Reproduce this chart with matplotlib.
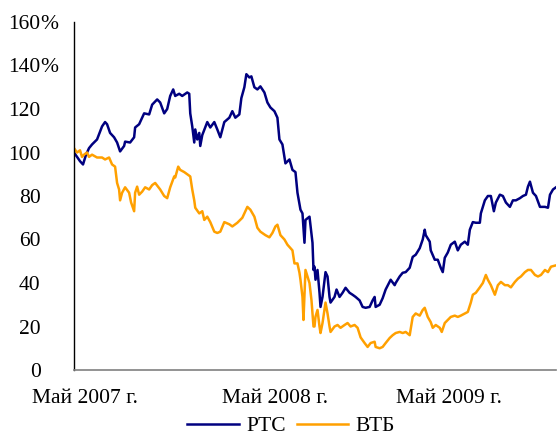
import matplotlib
matplotlib.use("Agg")
import matplotlib.pyplot as plt
import numpy as np

# day index (approximate trading-day position) and index values, % of start
rts_days = [0, 3, 6, 9, 12, 15, 18, 23, 28, 31, 33, 36, 40, 43, 46, 50, 51, 56, 60, 61, 65, 70, 75, 78,
            83, 86, 90, 93, 96, 99, 101, 105, 108, 113, 115, 116, 118, 120, 121, 123, 125, 126, 128,
            133, 136, 140, 143, 146, 150, 155, 158, 161, 165, 167, 170, 172, 175, 177, 180, 183, 186,
            190, 193, 196, 200, 203, 205, 208, 211, 215, 218, 221, 223, 226, 228, 230, 231, 235, 238,
            239, 240, 241, 243, 245, 246, 248, 251, 253, 255, 256, 260, 262, 265, 268, 271, 275, 278,
            281, 285, 288, 291, 295, 298, 300, 301, 305, 308, 311, 316, 320, 321, 325, 328, 331, 335,
            338, 341, 345, 348, 350, 351, 355, 356, 360, 363, 366, 368, 370, 373, 376, 380, 383, 386,
            390, 393, 395, 398, 401, 405, 406, 410, 413, 416, 419, 421, 425, 428, 431, 435, 438, 441,
            445, 448, 451, 453, 455, 458, 461, 465, 470, 473, 475, 478, 481]
rts_vals = [100, 98, 96, 94.5, 99, 102, 103.7, 106, 112, 114, 113, 109, 107, 104.6, 100.5, 103, 105, 104.6,
            107, 111.5, 113, 118, 117.5, 122,
            124.4, 123, 118, 120, 126, 129, 126, 127, 126, 127.6, 127, 118, 112, 104.6, 110.6, 106, 109,
            103, 108, 114, 111.5, 114, 110.6, 107, 114, 116, 119, 116, 117.5, 125, 130, 136, 134.5, 135,
            130, 129, 130.4, 127.6, 123, 120.7, 119, 116, 106, 103.7, 95, 96.8, 92, 91, 81.5, 73.7, 72,
            58.5, 69, 70.5, 58.5, 46, 47.5, 41.5, 46, 35.5, 29, 33.6, 45, 43, 33.6, 31, 33.6, 37, 33.6,
            35.5, 37.8, 35.5, 34.6, 33.6, 32, 29, 28.6, 29, 32, 33.6, 29, 30, 33, 37, 41.5, 39, 40, 43,
            44.7, 45, 47, 52, 53, 56, 60, 64.5, 62, 59, 55, 50.7, 50.7, 47, 45, 51.6, 54, 57.6, 59, 55,
            57.6, 59, 57.6, 64.5, 68, 67.7, 67.7, 72, 78, 80, 80, 73, 77, 80.6, 80, 77, 75, 78, 78, 79,
            80, 80.6, 84.3, 86.6, 81.5, 80, 75, 75, 74.6, 80.6, 83, 84]

vtb_days = [0, 3, 6, 8, 10, 13, 15, 18, 23, 28, 31, 35, 38, 41, 43, 45, 46, 48, 51, 55, 57, 60, 61, 63,
            65, 68, 71, 75, 78, 81, 86, 90, 93, 96, 100, 101, 104, 106, 110, 113, 116, 118, 120, 121,
            125, 128, 130, 133, 136, 140, 143, 146, 150, 155, 158, 163, 168, 173, 176, 180, 183, 186,
            191, 195, 198, 201, 203, 206, 210, 213, 218, 220, 223, 225, 226, 228, 229, 231, 233, 235,
            237, 239, 240, 241, 243, 245, 246, 248, 251, 253, 255, 256, 260, 263, 266, 270, 273, 276,
            280, 283, 286, 290, 293, 296, 300, 301, 305, 308, 311, 315, 318, 321, 325, 328, 331, 335,
            338, 341, 345, 348, 350, 353, 356, 358, 361, 365, 367, 370, 373, 376, 380, 383, 386, 390,
            393, 396, 398, 401, 405, 408, 411, 413, 416, 420, 423, 426, 430, 433, 436, 440, 443, 446,
            450, 453, 456, 460, 463, 466, 470, 473, 476, 480]
vtb_vals = [102, 100, 101, 98, 99, 100, 98, 99, 97.7, 97.7, 96.8, 97.7, 94.5, 93.5, 86, 83, 78, 81.5, 84,
            81.5, 77, 73, 81.5, 84.3, 80.6, 82, 84, 83, 85, 86, 83, 80, 79, 84, 89, 88.5, 93.5, 92, 91,
            90, 89, 83, 78, 74.6, 72, 73, 69, 70.5, 68, 63.6, 63, 63.6, 68, 67, 66, 67.7, 70, 75, 73.7,
            70.5, 65.4, 63.6, 62, 61, 63, 66, 66.8, 62, 60, 57.6, 55, 49, 49, 44.7, 41.5, 33.6, 23, 46,
            43, 40, 32, 20, 20, 24.5, 27.6, 20, 17, 21.6, 31, 26, 20, 17.5, 20, 20.7, 19.4, 20.7, 21.6,
            20, 20.7, 19.4, 15, 12.4, 10.6, 12.4, 13, 10.6, 10, 10.6, 12.4, 14.7, 16, 17, 17.5, 17, 17.5,
            16, 24.4, 26, 25, 27.6, 28.6, 24.4, 22, 19.4, 20.7, 19.4, 17.5, 21.6, 23, 24.4, 25, 24.4, 25,
            26, 26.7, 31, 34.6, 35.5, 38, 40, 43.7, 41.5, 39, 34.6, 39, 40.5, 39, 39, 38, 40.5, 42, 43,
            45, 46, 46, 43.7, 43, 43.7, 46, 45, 47.5, 48]

series_names = ["РТС", "ВТБ"]
x_tick_days = [11, 201, 374]
x_tick_labels = ["Май 2007 г.", "Май 2008 г.", "Май 2009 г."]
y_ticks = [0, 20, 40, 60, 80, 100, 120, 140, 160]
y_tick_labels = ["0", "20", "40", "60", "80", "100", "120", "140", "160"]

plt.rcParams['font.family'] = ['Liberation Serif', 'DejaVu Serif']
FS = 15.5

fig = plt.figure(figsize=(5.58, 4.37), dpi=100)
ax = fig.add_axes([74 / 558, 67 / 437, 482 / 558, 348 / 437])

l1, = ax.plot(rts_days, rts_vals, color='#000080', lw=1.8, label=series_names[0])
l2, = ax.plot(vtb_days, vtb_vals, color='#FFA000', lw=1.8, label=series_names[1])

ax.set_xlim(0, 481)
ax.set_ylim(0, 160)
ax.set_yticks(y_ticks)
ax.set_yticklabels(y_tick_labels)
ax.set_xticks(x_tick_days)
ax.set_xticklabels(x_tick_labels)
ax.tick_params(axis='y', length=0, pad=24, labelsize=FS)
ax.tick_params(axis='x', length=0, pad=14, labelsize=FS)

ax.spines['top'].set_visible(False)
ax.spines['right'].set_visible(False)
ax.spines['left'].set_color('black')
ax.spines['left'].set_linewidth(1.0)
ax.spines['bottom'].set_color('#808080')
ax.spines['bottom'].set_linewidth(1.2)

# percent signs hanging after the top two labels
for v in (140, 160):
    ax.annotate("%", xy=(0, v), xycoords=('axes fraction', 'data'),
                xytext=(-24, 0), textcoords='offset points',
                ha='left', va='center_baseline', fontsize=FS)

fig.legend(handles=[l1, l2], labels=series_names, loc='center', ncol=2,
           bbox_to_anchor=(291 / 558, 11 / 437), frameon=False, fontsize=FS,
           handlelength=2.4, columnspacing=0.5, handletextpad=0.35,
           borderpad=0.0)

fig.savefig("out.png", dpi=100)
